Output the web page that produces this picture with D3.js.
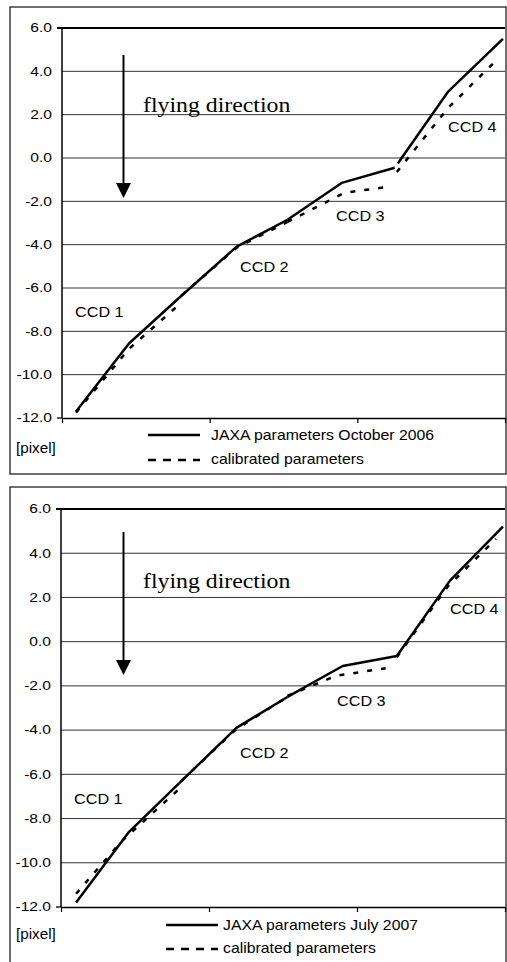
<!DOCTYPE html>
<html>
<head>
<meta charset="utf-8">
<script src="https://cdn.jsdelivr.net/npm/d3@7"></script>
<style>
  body { margin: 0; background: #fff; }
  svg { display: block; }
</style>
</head>
<body>
<div id="chart-area"></div>
<script>
var width = 507;
var height = 962;

// data: x in axis units (0..3), y in [pixel]
var ccdNames = ["CCD 1", "CCD 2", "CCD 3", "CCD 4"];
var yTicks = [6, 4, 2, 0, -2, -4, -6, -8, -10, -12];
var xTicks = [0, 1, 2, 3];

var jaxaOct2006 = [
  [[0.095, -11.7], [0.455, -8.55], [0.794, -6.45]],
  [[0.794, -6.45], [1.181, -4.1], [1.527, -2.85]],
  [[1.527, -2.85], [1.894, -1.15], [2.253, -0.45]],
  [[2.274, -0.25], [2.613, 3.05], [2.986, 5.5]]
];
var calOct2006 = [
  [[0.095, -11.75], [0.455, -8.8], [0.787, -6.8]],
  [[0.808, -6.35], [1.181, -4.15], [1.527, -2.95]],
  [[1.527, -2.95], [1.914, -1.6], [2.192, -1.35]],
  [[2.267, -0.65], [2.613, 2.3], [2.925, 4.4]]
];
var jaxaJul2007 = [
  [[0.102, -11.8], [0.46, -8.6], [0.799, -6.4]],
  [[0.799, -6.4], [1.185, -3.9], [1.53, -2.5]],
  [[1.53, -2.5], [1.903, -1.1], [2.269, -0.65]],
  [[2.269, -0.65], [2.627, 2.75], [2.986, 5.2]]
];
var calJul2007 = [
  [[0.102, -11.4], [0.406, -9.05], [0.792, -6.7]],
  [[0.813, -6.3], [1.185, -3.95], [1.53, -2.5]],
  [[1.53, -2.45], [1.855, -1.55], [2.194, -1.2]],
  [[2.269, -0.7], [2.614, 2.5], [2.939, 4.65]]
];

var panels = [
  {
    frame: [10, 7, 496, 467],
    plot: { l: 62, r: 505, t: 28, b: 418 },
    jaxa: jaxaOct2006, cal: calOct2006,
    legendName: "JAXA parameters October 2006",
    legend: { x: 148, tx: 211, y1: 435, y2: 460 },
    pixelY: 453,
    flyY: 112, arrow: [55, 183, 198],
    ccdPos: [[75, 317], [240, 272], [336, 221], [448, 132]]
  },
  {
    frame: [10, 487, 496, 490],
    plot: { l: 61, r: 505, t: 509, b: 907 },
    jaxa: jaxaJul2007, cal: calJul2007,
    legendName: "JAXA parameters July 2007",
    legend: { x: 166, tx: 223, y1: 925, y2: 949 },
    pixelY: 939,
    flyY: 588, arrow: [532, 660, 675],
    ccdPos: [[74, 804], [240, 758], [337, 706], [450, 614]]
  }
];

var sans = "'Liberation Sans', Arial, sans-serif";
var serif = "'Liberation Serif', 'Times New Roman', serif";

var svg = d3.select("#chart-area")
  .append("svg")
  .attr("width", width)
  .attr("height", height);

// text that is a bit wider than the font, like the original
function label(g, txt, x, y, size, sx, family) {
  return g.append("text")
    .attr("transform", "translate(" + x + "," + y + ") scale(" + sx + ",1)")
    .attr("font-family", family || sans)
    .attr("font-size", size)
    .attr("fill", "#000")
    .text(txt);
}

panels.forEach(function(p) {
  var g = svg.append("g");

  g.append("rect")
    .attr("x", p.frame[0]).attr("y", p.frame[1])
    .attr("width", p.frame[2]).attr("height", p.frame[3])
    .attr("fill", "none")
    .attr("stroke", "#222")
    .attr("stroke-width", 1.3);

  var x = d3.scaleLinear().domain([0, 3]).range([p.plot.l, p.plot.r]);
  var y = d3.scaleLinear().domain([-12, 6]).range([p.plot.b, p.plot.t]);

  // gridlines
  g.selectAll(".grid")
    .data(yTicks.filter(function(d) { return d > -12; }))
    .enter()
    .append("line")
    .attr("x1", function(d) { return d === 6 ? p.plot.l - 5 : p.plot.l; })
    .attr("x2", p.plot.r)
    .attr("y1", function(d) { return y(d); })
    .attr("y2", function(d) { return y(d); })
    .attr("stroke", function(d) { return d === 6 ? "#000" : "#333"; })
    .attr("stroke-width", function(d) { return d === 6 ? 2 : 1; });

  // y axis labels
  var yAxis = g.append("g")
    .attr("transform", "translate(" + p.plot.l + ",0)")
    .call(d3.axisLeft(y)
      .tickValues(yTicks)
      .tickSize(0)
      .tickPadding(10)
      .tickFormat(function(d) { return d.toFixed(1); }));
  yAxis.select(".domain").remove();
  yAxis.selectAll("text")
    .attr("font-family", sans)
    .attr("font-size", 12)
    .attr("fill", "#000")
    .attr("x", -10 / 1.3)
    .attr("transform", "scale(1.3,1)");

  g.append("line")
    .attr("x1", p.plot.l).attr("x2", p.plot.l)
    .attr("y1", p.plot.t).attr("y2", p.plot.b)
    .attr("stroke", "#000").attr("stroke-width", 1.5);

  // x axis
  var xAxis = g.append("g")
    .attr("transform", "translate(0," + p.plot.b + ")")
    .call(d3.axisBottom(x)
      .tickValues(xTicks)
      .tickSize(5)
      .tickSizeOuter(0)
      .tickFormat(""));
  xAxis.select(".domain").attr("stroke", "#000").attr("stroke-width", 1.3);
  xAxis.selectAll(".tick line").attr("stroke", "#000").attr("stroke-width", 1.2);
  g.append("line")
    .attr("x1", p.plot.l - 5).attr("x2", p.plot.l)
    .attr("y1", p.plot.b).attr("y2", p.plot.b)
    .attr("stroke", "#000").attr("stroke-width", 1.3);

  var line = d3.line()
    .x(function(d) { return x(d[0]); })
    .y(function(d) { return y(d[1]); });

  // calibrated (dashed)
  g.selectAll(".cal")
    .data(p.cal)
    .enter()
    .append("path")
    .attr("d", line)
    .attr("fill", "none")
    .attr("stroke", "#000")
    .attr("stroke-width", 2.5)
    .attr("stroke-dasharray", "5,9");

  // JAXA (solid)
  g.selectAll(".jaxa")
    .data(p.jaxa)
    .enter()
    .append("path")
    .attr("d", line)
    .attr("fill", "none")
    .attr("stroke", "#000")
    .attr("stroke-width", 2.5)
    .attr("stroke-linejoin", "round");

  // CCD labels
  ccdNames.forEach(function(name, i) {
    label(g, name, p.ccdPos[i][0], p.ccdPos[i][1], 15, 1.08);
  });

  // flying direction
  label(g, "flying direction", 143, p.flyY, 20, 1.19, serif);
  g.append("line")
    .attr("x1", 123.5).attr("x2", 123.5)
    .attr("y1", p.arrow[0]).attr("y2", p.arrow[1] + 1)
    .attr("stroke", "#000").attr("stroke-width", 2);
  g.append("path")
    .attr("d", "M116," + p.arrow[1] + "L131," + p.arrow[1] + "L123.5," + p.arrow[2] + "Z")
    .attr("fill", "#000");

  // unit
  label(g, "[pixel]", 16, p.pixelY, 14, 1.09);

  // legend
  g.append("line")
    .attr("x1", p.legend.x).attr("x2", p.legend.x + 52)
    .attr("y1", p.legend.y1).attr("y2", p.legend.y1)
    .attr("stroke", "#000").attr("stroke-width", 2.5);
  g.append("line")
    .attr("x1", p.legend.x).attr("x2", p.legend.x + 52)
    .attr("y1", p.legend.y2).attr("y2", p.legend.y2)
    .attr("stroke", "#000").attr("stroke-width", 2.5)
    .attr("stroke-dasharray", "8,7");
  label(g, p.legendName, p.legend.tx, p.legend.y1 + 5, 14, 1.13);
  label(g, "calibrated parameters", p.legend.tx, p.legend.y2 + 4, 14, 1.13);
});
</script>
</body>
</html>
